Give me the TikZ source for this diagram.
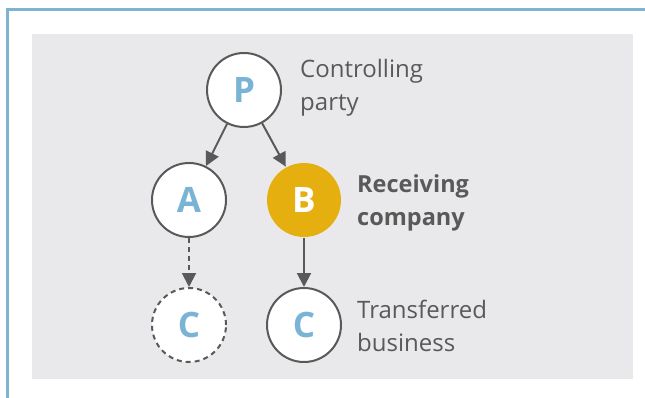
\documentclass[tikz,border=0pt]{standalone}
\usepackage{fontspec}
\setmainfont{Open Sans}
\usetikzlibrary{arrows.meta}
\definecolor{frameblue}{HTML}{7EB3D3}
\definecolor{panelgrey}{HTML}{E9E9EB}
\definecolor{linegrey}{HTML}{595959}
\definecolor{letterblue}{HTML}{7AB4D4}
\definecolor{gold}{HTML}{E6AF10}
\tikzset{
  ent/.style={circle, draw=linegrey, line width=2pt, fill=white, minimum size=74pt, inner sep=0pt,
    text=letterblue, font=\fontsize{35}{35}\selectfont\bfseries},
  entdash/.style={ent, dashed, dash pattern=on 5pt off 4pt},
  entgold/.style={ent, draw=none, fill=gold, text=white},
  lbl/.style={anchor=west, align=left, text=linegrey, font=\fontsize{24}{33}\selectfont, inner sep=0pt},
  conn/.style={draw=linegrey, line width=2pt, -{Triangle[length=14pt,width=14pt]}},
}
\begin{document}
\begin{tikzpicture}[x=1pt,y=-1pt]
\useasboundingbox (0,0) rectangle (645,398);
\draw[frameblue, line width=3pt] (7.5,398) -- (7.5,9.5) -- (645,9.5);
\fill[panelgrey] (32,34) rectangle (633,379);
\node[ent] (P) at (244,90) {P};
\node[ent] (A) at (189,200) {A};
\node[entgold] (B) at (304,200) {B};
\node[entdash] (C1) at (189,325) {C};
\node[ent] (C2) at (304,325) {C};
\draw[conn] (P) -- (A);
\draw[conn] (P) -- (B);
\draw[conn, dashed, dash pattern=on 5pt off 4pt] (A) -- (C1);
\draw[conn] (B) -- (C2);
\node[lbl] (tP) at (300,88) {Controlling\\party};
\node[lbl, font=\fontsize{23.5}{33}\selectfont\bfseries] (tB) at (357,203) {Receiving\\company};
\node[lbl] (tC) at (357,326) {Transferred\\business};
\end{tikzpicture}
\end{document}
